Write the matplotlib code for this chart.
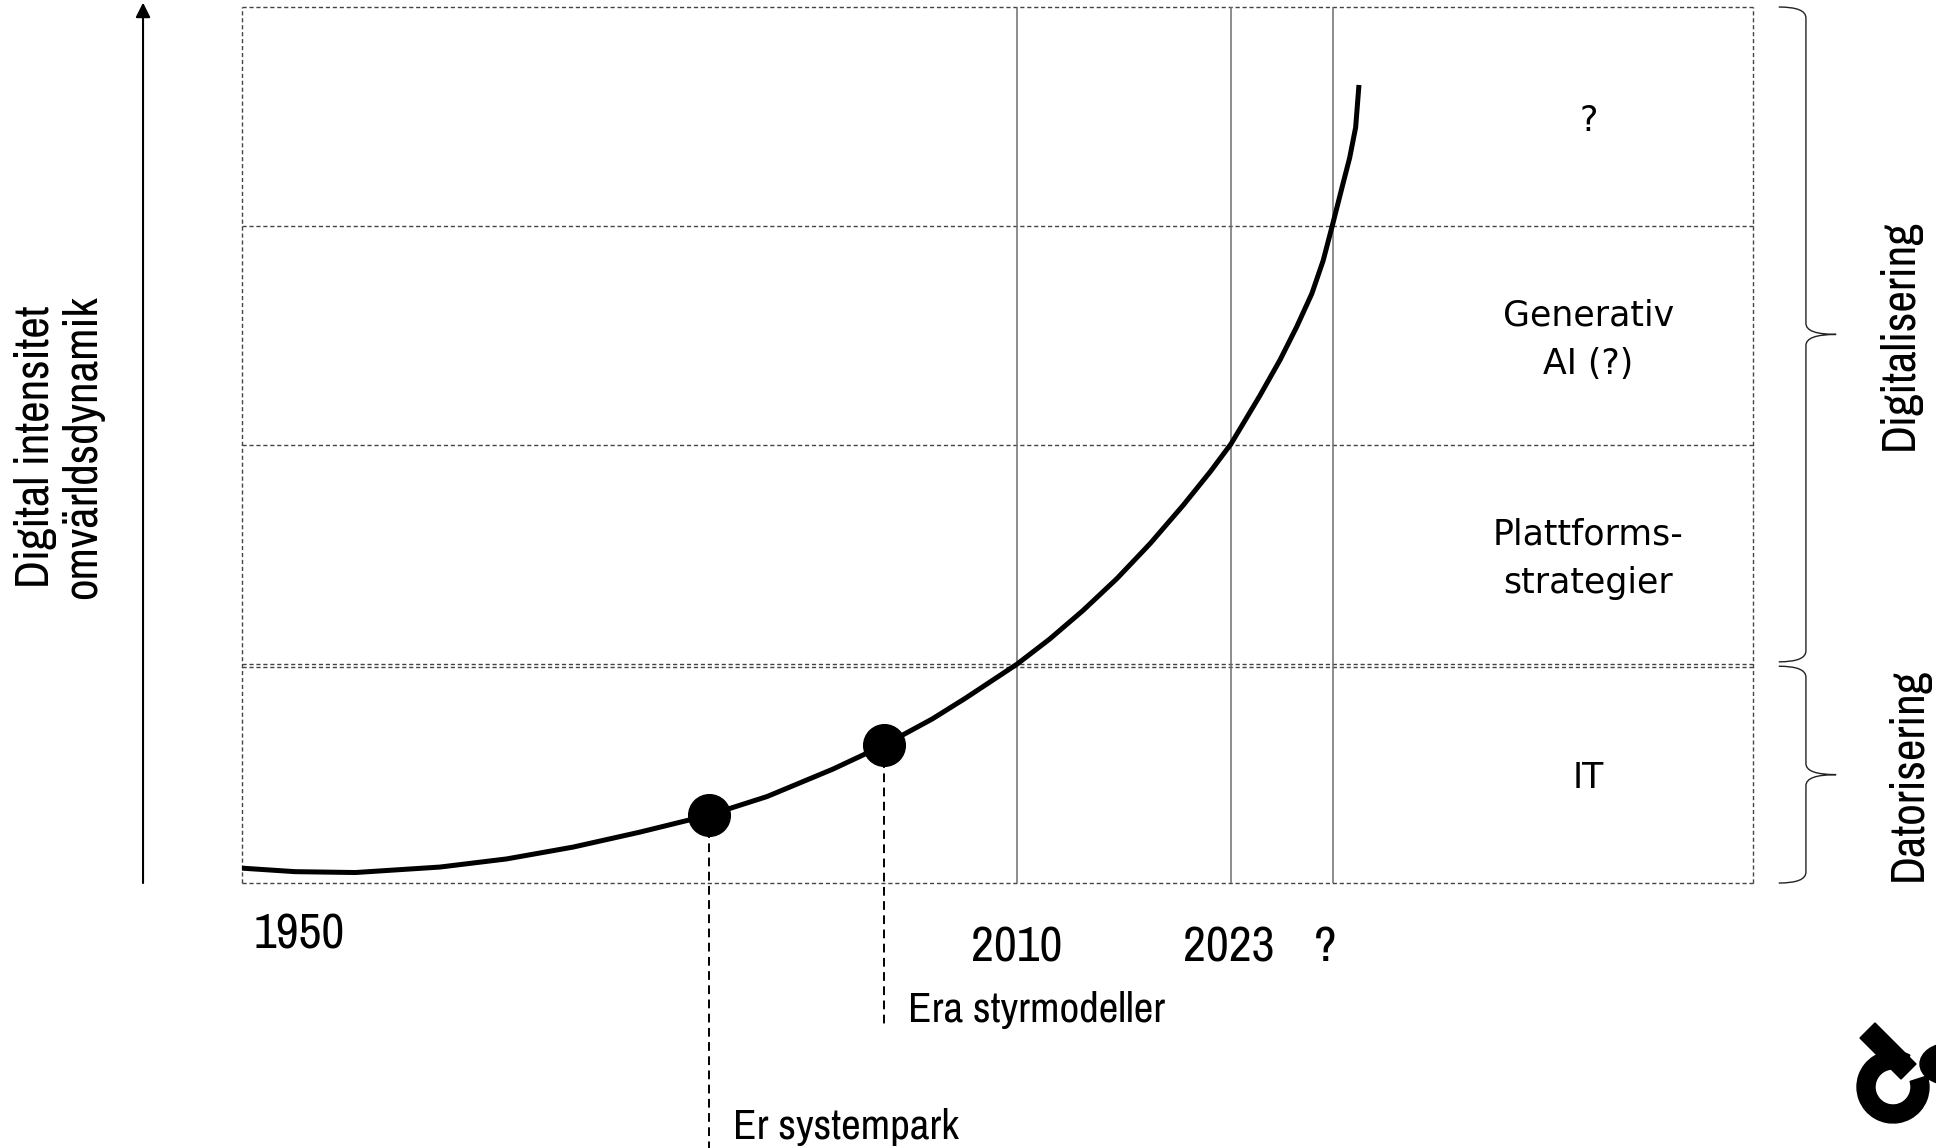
import matplotlib
matplotlib.use("Agg")
import matplotlib.pyplot as plt
from matplotlib import font_manager
from matplotlib.path import Path
from matplotlib.patches import PathPatch, Wedge, Polygon, Ellipse

# curve (x: 0-100 across the box, y: in band units)
curve_x = [0, 3.5, 7.5, 13.1, 17.5, 21.9, 26.3, 30.9, 34.75, 39.1, 42.5, 45.7,
           47.9, 51.3, 53.45, 55.65, 57.9, 60.1, 62.3, 64.1, 65.45, 67.35, 68.7,
           69.8, 70.8, 71.55, 72.15, 72.85, 73.3, 73.7, 73.92]
curve_y = [0.068, 0.052, 0.048, 0.073, 0.11, 0.164, 0.232, 0.31, 0.395, 0.52, 0.63, 0.75,
           0.845, 1.0, 1.114, 1.244, 1.39, 1.55, 1.726, 1.88, 2.005, 2.224, 2.389,
           2.54, 2.691, 2.842, 3.0, 3.19, 3.31, 3.45, 3.644]

band_labels = ["IT", "Plattforms-\nstrategier", "Generativ\nAI (?)", "?"]
year_labels = ["1950", "2010", "2023", "?"]
year_x = [3.8, 51.3, 65.3, 71.7]
year_y = [-0.235, -0.295, -0.295, -0.295]
era_lines_x = [51.3, 65.45, 72.2]

milestone_x = [30.9, 42.5]
milestone_y = [0.31, 0.63]
milestone_labels = ["Er systempark", "Era styrmodeller"]
milestone_drop = [-1.25, -0.65]
milestone_text_y = [-1.115, -0.58]

phase_labels = ["Datorisering", "Digitalisering"]
phase_spans = [(0.0, 0.99), (1.01, 4.0)]
phase_text_x = [110.3, 109.7]

y_label = "Digital intensitet\nomvärldsdynamik"

# condensed face for the side texts if there is one
names = {f.name for f in font_manager.fontManager.ttflist}
if "Archivo Narrow" in names:
    narrow, big, years, small = "Archivo Narrow", 34, 36, 31
else:
    narrow, big, years, small = "Liberation Sans", 30, 30, 25.5
plain = "DejaVu Sans"


def brace(ax, y0, y1, x_end, x_spine, x_tip, r):
    ym = (y0 + y1) / 2
    verts = [(x_end, y1), (x_spine, y1), (x_spine, y1 - r),
             (x_spine, ym + r), (x_spine, ym), (x_tip, ym),
             (x_spine, ym), (x_spine, ym - r),
             (x_spine, y0 + r), (x_spine, y0), (x_end, y0)]
    codes = [Path.MOVETO, Path.CURVE3, Path.CURVE3,
             Path.LINETO, Path.CURVE3, Path.CURVE3,
             Path.CURVE3, Path.CURVE3,
             Path.LINETO, Path.CURVE3, Path.CURVE3]
    ax.add_patch(PathPatch(Path(verts, codes), fill=False, lw=1.0,
                           edgecolor="#222222", clip_on=False))


fig = plt.figure(figsize=(19.36, 11.48), dpi=100)
ax = fig.add_axes([0.125, 0.2308, 0.7805, 0.7631])
ax.set_xlim(0, 100)
ax.set_ylim(0, 4)
ax.axis("off")

# dashed box and band separators
box_style = dict(color="#444444", lw=1.0, linestyle=(0, (3.0, 2.0)), clip_on=False)
for yy in [0, 0.986, 1, 2, 3, 4]:
    ax.plot([0, 100], [yy, yy], **box_style)
for xx in [0, 100]:
    ax.plot([xx, xx], [0, 4], **box_style)

# era lines
for xx in era_lines_x:
    ax.plot([xx, xx], [0, 4], color="#6e6e6e", lw=1.1)

# milestone drop lines
for mx, my, md in zip(milestone_x, milestone_y, milestone_drop):
    ax.plot([mx, mx], [my, md], color="black", lw=1.4,
            linestyle=(0, (4.5, 2.8)), clip_on=False)

# the curve
ax.plot(curve_x, curve_y, color="black", lw=3.6, solid_capstyle="butt",
        solid_joinstyle="round")
ax.plot(milestone_x, milestone_y, "o", color="black", markersize=30, zorder=5)

for mx, ty, lab in zip(milestone_x, milestone_text_y, milestone_labels):
    ax.text(mx + 1.6, ty, lab, fontsize=small, family=narrow, ha="left",
            va="center", clip_on=False)

for i, lab in enumerate(band_labels):
    ax.text(89.1, i + 0.48, lab, fontsize=25, family=plain, ha="center",
            va="center", linespacing=1.55)

for xx, yy, lab in zip(year_x, year_y, year_labels):
    ax.text(xx, yy, lab, fontsize=years, family=narrow, ha="center", va="center",
            clip_on=False)

# vertical arrow + y label
ax.annotate("", xy=(-6.55, 4.02), xytext=(-6.55, 0),
            arrowprops=dict(arrowstyle="-|>", color="black", lw=1.5,
                            mutation_scale=22, shrinkA=0, shrinkB=0),
            annotation_clip=False)
ax.text(-12.1, 1.99, y_label, rotation=90, fontsize=big, family=narrow,
        ha="center", va="center", linespacing=1.1, clip_on=False)

# braces + phase labels
for (y0, y1), lab, tx in zip(phase_spans, phase_labels, phase_text_x):
    brace(ax, y0, y1, 101.7, 103.5, 105.5, 0.05)
    ax.text(tx, (y0 + y1) / 2, lab, rotation=90, fontsize=big, family=narrow,
            ha="center", va="center", clip_on=False)

# logo, cut off at the corner
lax = fig.add_axes([1850 / 1936, 0, 86 / 1936, 128 / 1148])
lax.set_xlim(0, 86)
lax.set_ylim(0, 128)
lax.axis("off")
lax.add_patch(Wedge((43, 61), 36, 62, 378, width=18, color="black"))
lax.add_patch(Polygon([(10, 110), (25, 125), (66, 84), (51, 69)], closed=True,
                      color="black"))
lax.add_patch(Ellipse((100, 84), 60, 42, color="black"))

fig.savefig("out.png", dpi=100)
